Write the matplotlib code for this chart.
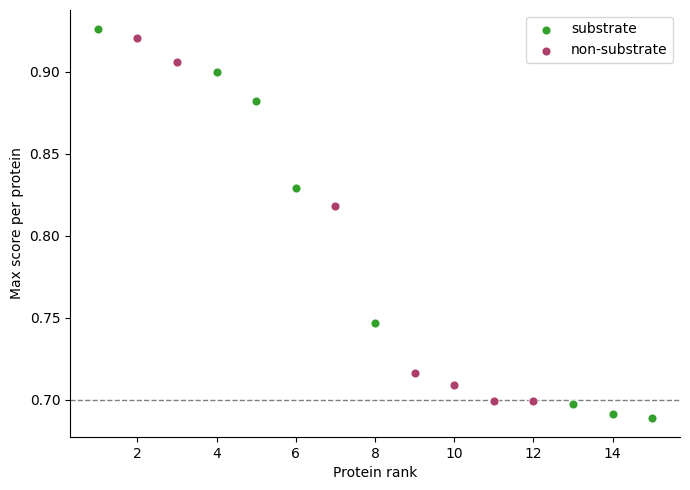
import matplotlib
matplotlib.use("Agg")
import matplotlib.pyplot as plt

# protein rank, max score, label
ranks = list(range(1, 16))
scores = [0.926, 0.921, 0.906, 0.900, 0.882, 0.829, 0.818, 0.747,
          0.7165, 0.709, 0.6994, 0.6994, 0.6976, 0.691, 0.689]
labels = ["substrate", "non-substrate", "non-substrate", "substrate", "substrate",
          "substrate", "non-substrate", "substrate", "non-substrate", "non-substrate",
          "non-substrate", "non-substrate", "substrate", "substrate", "substrate"]
colors = {"substrate": "#33a02c", "non-substrate": "#ad3f6c"}
threshold = 0.70

fig, ax = plt.subplots(figsize=(6.9, 4.9), dpi=100)

for grp in ["substrate", "non-substrate"]:
    xs = [r for r, l in zip(ranks, labels) if l == grp]
    ys = [s for s, l in zip(scores, labels) if l == grp]
    ax.scatter(xs, ys, s=42, color=colors[grp], edgecolor="white", linewidth=0.6,
               label=grp, zorder=3)

ax.axhline(threshold, color="gray", linestyle="--", linewidth=1, zorder=2)

ax.set_xlabel("Protein rank")
ax.set_ylabel("Max score per protein")
ax.spines["top"].set_visible(False)
ax.spines["right"].set_visible(False)
ax.legend(loc="upper right")

fig.subplots_adjust(left=70 / 690, right=680 / 690, top=1 - 10 / 490, bottom=1 - 437 / 490)
plt.savefig("out.png")
